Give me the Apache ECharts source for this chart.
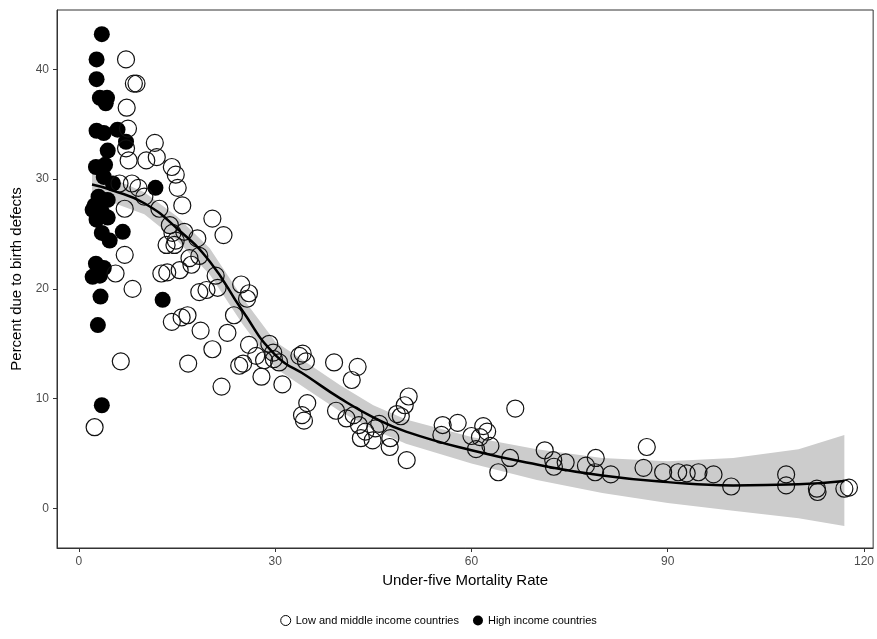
<!DOCTYPE html>
<html><head><meta charset="utf-8">
<script src="https://cdn.jsdelivr.net/npm/echarts@6/dist/echarts.min.js"></script>
<style>html,body{margin:0;padding:0;background:#fff}#c{width:877px;height:639px}</style>
</head><body><div id="c"></div>
<script>
// high income countries [mortality, percent]
var highIncome = [[3.5,43.2],[2.7,40.9],[2.7,39.1],[3.2,37.4],[4.3,37.4],[4.1,36.9],[2.7,34.4],[5.9,34.5],
  [7.2,33.4],[3.8,34.2],[4.4,32.6],[4.0,31.3],[2.6,31.1],[3.8,30.2],[5.2,29.6],[11.7,29.2],[3.0,28.4],
  [3.8,28.1],[4.4,28.1],[2.4,27.6],[2.1,27.2],[3.5,27.0],[2.7,26.3],[4.4,26.5],[3.5,25.1],[6.7,25.2],
  [4.7,24.4],[2.6,22.3],[3.8,21.9],[2.1,21.1],[3.2,21.2],[3.3,19.3],[12.8,19.0],[2.9,16.7],[3.5,9.4]];
// low and middle income countries
var lowMiddle = [[7.2,40.9],[8.4,38.7],[8.8,38.7],[7.3,36.5],[7.5,34.6],[7.2,32.8],[11.6,33.3],[11.9,32.0],
  [10.3,31.7],[7.6,31.7],[14.2,31.1],[14.8,30.4],[15.1,29.2],[6.2,29.6],[8.1,29.6],[9.1,29.2],[10.0,28.4],
  [7.0,27.3],[12.3,27.3],[15.8,27.6],[13.9,25.8],[14.3,25.1],[14.8,24.4],[16.1,25.2],[18.1,24.6],[20.4,26.4],
  [22.1,24.9],[13.4,24.0],[14.6,24.0],[16.9,22.8],[17.2,22.2],[18.4,23.0],[13.5,21.5],[15.4,21.7],[12.6,21.4],
  [5.6,21.4],[7.0,23.1],[20.9,21.2],[8.2,20.0],[21.2,20.1],[19.5,19.9],[18.4,19.7],[24.8,20.4],[26.0,19.6],
  [25.7,19.1],[16.6,17.6],[15.7,17.4],[14.2,17.0],[23.7,17.6],[22.7,16.0],[18.6,16.2],[20.4,14.5],[16.7,13.2],
  [6.4,13.4],[26.0,14.9],[27.1,13.9],[28.3,13.5],[29.1,15.0],[29.7,14.2],[29.8,13.6],[30.6,13.3],[27.9,12.0],
  [25.1,13.2],[24.5,13.0],[21.8,11.1],[31.1,11.3],[34.2,14.1],[34.7,13.4],[39.0,13.3],[33.7,13.9],[34.1,8.5],
  [34.4,8.0],[34.9,9.6],[41.7,11.7],[42.6,12.9],[39.3,8.9],[40.9,8.2],[42.0,8.5],[42.8,7.6],[43.1,6.4],
  [43.8,7.0],[44.9,6.2],[45.3,7.3],[45.9,7.7],[47.6,6.4],[48.6,8.6],[49.2,8.4],[49.8,9.4],[50.4,10.2],
  [50.1,4.4],[47.5,5.6],[55.4,6.7],[55.6,7.6],[57.9,7.8],[60.0,6.6],[60.7,5.4],[61.3,6.5],[61.8,7.5],
  [62.4,7.0],[62.9,5.7],[64.1,3.3],[65.9,4.6],[66.7,9.1],[71.2,5.3],[72.6,3.8],[72.5,4.4],[74.4,4.2],
  [77.5,3.9],[79.0,4.6],[78.9,3.3],[81.3,3.1],[86.3,3.7],[86.8,5.6],[89.3,3.3],[91.6,3.3],[92.9,3.2],
  [94.7,3.3],[97.0,3.1],[99.7,2.0],[108.1,3.1],[108.1,2.1],[112.8,1.8],[112.9,1.5],[117.0,1.8],[117.7,1.9],[2.4,7.4]];
// loess fit and confidence band
var fitX = [2,5,10,15,20,25,30,35,40,45,50,60,70,80,90,100,110,117];
var fitY = [29.5,29.0,27.8,25.5,22.5,18.0,14.0,12.0,10.0,8.3,7.0,5.3,4.0,3.0,2.4,2.1,2.2,2.5];
var bandLo = [27.8,27.9,26.8,24.4,21.3,16.8,12.8,10.8,8.8,7.2,5.9,4.1,2.6,1.4,0.5,-0.2,-0.9,-1.6];
var bandHi = [31.2,30.1,28.8,26.6,23.7,19.2,15.2,13.2,11.2,9.4,8.1,6.5,5.4,4.6,4.3,4.6,5.4,6.7];

var fitPts = fitX.map(function(x,i){return [x,fitY[i]];});

var chart = echarts.init(document.getElementById('c'));
var axisCommon = {
  axisLine:{show:true,onZero:false,lineStyle:{color:'#333'}},
  axisLabel:{color:'#4d4d4d',fontSize:12,fontFamily:'Liberation Sans'},
  splitLine:{show:false},
  nameLocation:'middle',
  nameTextStyle:{color:'#000',fontSize:15,fontFamily:'Liberation Sans'}
};
chart.setOption({
  animation:false,
  grid:{left:57,right:0,top:10,bottom:91,show:true,borderColor:'#333',borderWidth:1},
  xAxis:Object.assign({},axisCommon,{type:'value',min:-3.35,max:121.4,name:'Under-five Mortality Rate',nameGap:22,
    axisTick:{show:true,length:4,lineStyle:{color:'#333'},customValues:[0,30,60,90,120]},
    axisLabel:Object.assign({},axisCommon.axisLabel,{customValues:[0,30,60,90,120]})}),
  yAxis:Object.assign({},axisCommon,{type:'value',min:-3.6,max:45.4,name:'Percent due to birth defects',nameGap:30,
    axisTick:{show:true,length:4,lineStyle:{color:'#333'},customValues:[0,10,20,30,40]},
    axisLabel:Object.assign({},axisCommon.axisLabel,{customValues:[0,10,20,30,40]})}),
  legend:{bottom:8,left:'center',itemWidth:10,itemHeight:10,itemGap:14,
    textStyle:{fontSize:11,fontFamily:'Liberation Sans',color:'#000'},
    data:[{name:'Low and middle income countries',icon:'circle',itemStyle:{color:'#fff',borderColor:'#000',borderWidth:1,opacity:1}},
          {name:'High income countries',icon:'circle',itemStyle:{color:'#000',opacity:1}}]},
  series:[
    {type:'custom',silent:true,z:1,data:[0],
      renderItem:function(params,api){
        var pts=[];
        for(var i=0;i<fitX.length;i++) pts.push(api.coord([fitX[i],bandHi[i]]));
        for(var j=fitX.length-1;j>=0;j--) pts.push(api.coord([fitX[j],bandLo[j]]));
        return {type:'polygon',shape:{points:pts},style:{fill:'#cccccc'}};
      }},
    {name:'High income countries',type:'scatter',data:highIncome,symbolSize:16,itemStyle:{color:'#000',opacity:1},z:3},
    {name:'Low and middle income countries',type:'scatter',data:lowMiddle,symbolSize:17,
      itemStyle:{color:'rgba(0,0,0,0)',borderColor:'#111',borderWidth:1.2,opacity:1},z:3},
    {type:'line',data:fitPts,smooth:true,symbol:'none',lineStyle:{color:'#000',width:2.5},silent:true,z:4}
  ]
});
</script></body></html>
